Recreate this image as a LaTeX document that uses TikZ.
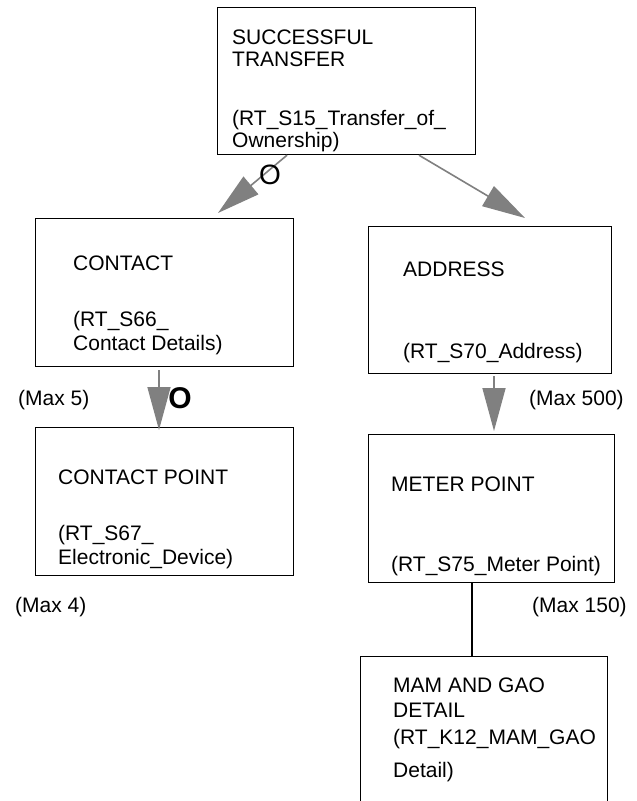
\documentclass[tikz,border=0pt]{standalone}
\usepackage{fontspec}
\setmainfont{Liberation Sans}
\usetikzlibrary{arrows.meta}
\definecolor{arrgray}{HTML}{808080}
\begin{document}
\begin{tikzpicture}[x=1pt,y=-1pt,
  box/.style={draw=black, line width=1.2pt, inner sep=0pt, anchor=north west},
  txt/.style={anchor=base west, inner sep=0pt, font=\fontsize{21}{22}\selectfont},
  arr/.style={draw=arrgray, line width=1.6pt, -{Triangle[length=43pt,width=23pt,fill=arrgray]}},
  link/.style={draw=black, line width=1.4pt}]
\useasboundingbox (0,0) rectangle (637,801);
\fill[white] (0,0) rectangle (637,801);
\clip (0,0) rectangle (637,801);

% boxes
\node[box, minimum width=258pt, minimum height=147pt] (top) at (217,7) {};
\node[box, minimum width=258pt, minimum height=148pt] (contact) at (35,218) {};
\node[box, minimum width=243pt, minimum height=147pt] (address) at (368,226) {};
\node[box, minimum width=258pt, minimum height=148pt] (cpoint) at (35,427) {};
\node[box, minimum width=246pt, minimum height=148pt] (meter) at (368,434) {};
\node[box, minimum width=247pt, minimum height=200pt] (mam) at (360,656) {};

% texts
\node[txt] (t1) at (232,44) {SUCCESSFUL};
\node[txt] (t2) at (232,66) {TRANSFER};
\node[txt] (t3) at (232,125) {(RT\_S15\_Transfer\_of\_};
\node[txt] (t4) at (232,147) {Ownership)};

\node[txt] (c1) at (73,270) {CONTACT};
\node[txt] (c2) at (73,326) {(RT\_S66\_};
\node[txt] (c3) at (73,350) {Contact Details)};

\node[txt] (a1) at (403,276) {ADDRESS};
\node[txt] (a2) at (403,358) {(RT\_S70\_Address)};

\node[txt] (p1) at (58,484) {CONTACT POINT};
\node[txt] (p2) at (58,540) {(RT\_S67\_};
\node[txt] (p3) at (58,564) {Electronic\_Device)};

\node[txt] (m1) at (391,491) {METER POINT};
\node[txt] (m2) at (391,571) {(RT\_S75\_Meter Point)};

\node[txt] (g1) at (393,692) {MAM AND GAO};
\node[txt] (g2) at (393,717) {DETAIL};
\node[txt] (g3) at (393,744) {(RT\_K12\_MAM\_GAO};
\node[txt] (g4) at (393,777) {Detail)};

% cardinality labels
\node[txt] (mx5) at (18,405) {(Max 5)};
\node[txt] (mx4) at (15,612) {(Max 4)};
\node[txt] (mx500) at (529,405) {(Max 500)};
\node[txt] (mx150) at (532,612) {(Max 150)};

% connectors
\draw[arr] ([xshift=70pt]top.south west) -- ([xshift=183pt,yshift=5pt]contact.north west);
\draw[arr] ([xshift=202pt]top.south west) -- ([xshift=157pt,yshift=8pt]address.north west);
\draw[arr] ([xshift=124pt,yshift=-3pt]contact.south west) -- ([xshift=124pt,yshift=-3pt]cpoint.north west);
\draw[arr] ([xshift=126pt,yshift=-2pt]address.south west) -- ([xshift=126pt,yshift=3pt]meter.north west);
\draw[link] ([xshift=104pt]meter.south west) -- ([xshift=112pt]mam.north west);

% optionality marks
\node[inner sep=0pt, font=\fontsize{28}{28}\selectfont] (o1) at (270,175) {O};
\node[inner sep=0pt, font=\fontsize{30}{30}\selectfont\bfseries] (o2) at (180,398) {O};
\end{tikzpicture}
\end{document}
